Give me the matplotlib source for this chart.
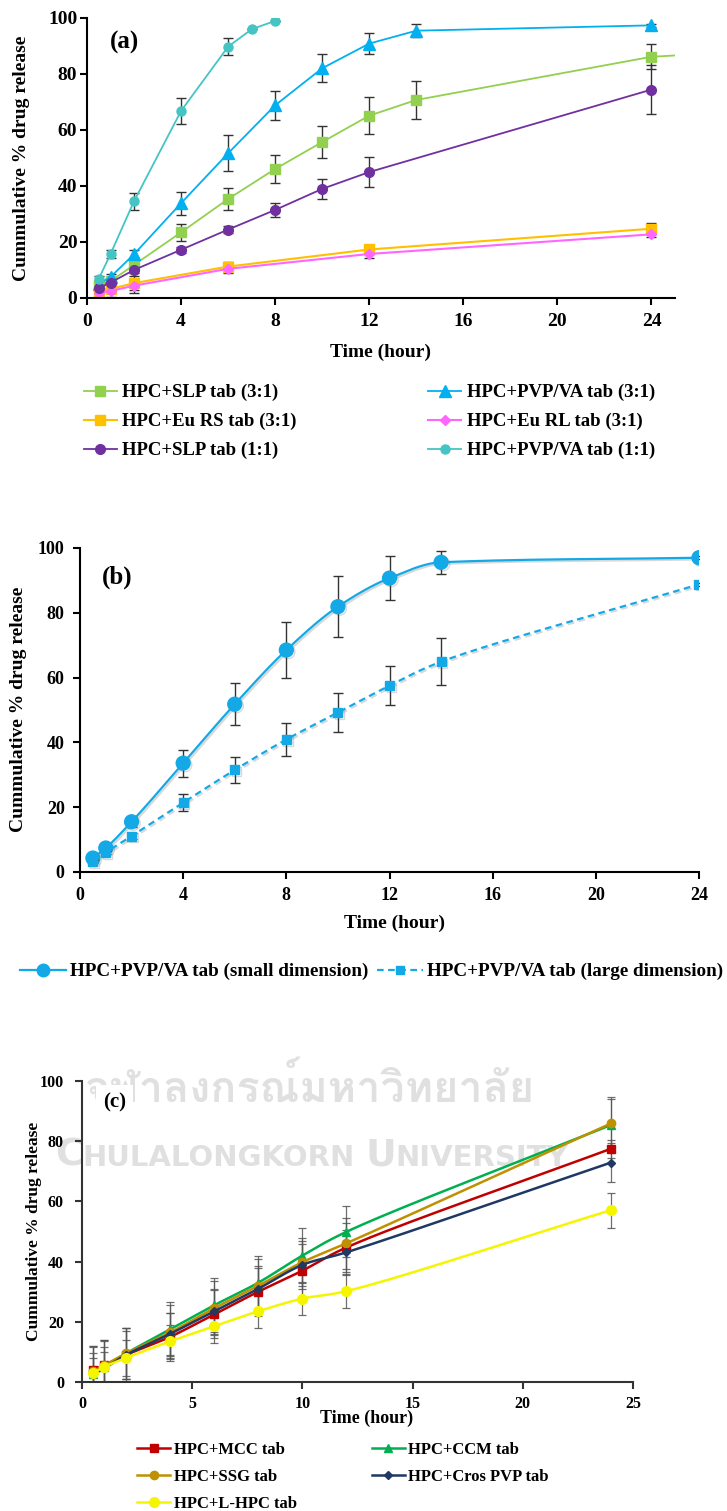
import numpy as np
import matplotlib
matplotlib.use('Agg')
import matplotlib.pyplot as plt
import matplotlib.patheffects as pe
from matplotlib import font_manager, ft2font

plt.rcParams['font.family'] = ['Liberation Serif', 'DejaVu Serif']
plt.rcParams['font.weight'] = 'bold'
plt.rcParams['axes.labelweight'] = 'bold'

W, H = 727, 1511

# ---- data (a) ----
t_a = [0.5, 1, 2, 4, 6, 8, 10, 12, 14, 24]
slp31 = [4.5, 6, 11.8, 23.4, 35.3, 46, 55.6, 65, 70.6, 86]
slp31_err = [1, 1, 1, 3.1, 3.9, 5, 5.8, 6.7, 6.7, 4.5]
slp31_tail = [25.3, 86.6]
pvp31 = [5, 7.5, 15.6, 33.8, 51.6, 68.7, 81.9, 90.7, 95.3, 97.2]
pvp31_err = [1, 1, 1.5, 4.1, 6.4, 5.2, 5, 3.6, 2.4, 0.5]
t_slp11 = [0.5, 1, 2, 4, 6, 8, 10, 12, 24]
slp11 = [3.5, 5.5, 10, 17.2, 24.4, 31.4, 38.9, 44.9, 74.3]
slp11_err = [1, 1, 1, 1, 1.4, 2.6, 3.7, 5.2, 8.6]
t_eu = [0.5, 1, 2, 6, 12, 24]
eurs = [2.2, 3.2, 5.3, 11.2, 17.3, 24.7]
eurs_err = [1, 1.5, 2.5, 1.5, 1, 2]
eurl = [1.8, 2.5, 4.4, 10.4, 15.7, 22.7]
eurl_err = [1, 2, 2.5, 1.5, 1.5, 1]
t_pvp11 = [0.5, 1, 2, 4, 6, 7, 8]
pvp11 = [6.8, 15.7, 34.5, 66.7, 89.6, 95.8, 98.8]
pvp11_err = [1, 1.5, 3, 4.6, 3, 0, 0]

# ---- data (b) ----
t_b = [0.5, 1, 2, 4, 6, 8, 10, 12, 14, 24]
small_dim = [4.3, 7.4, 15.5, 33.6, 51.8, 68.5, 81.9, 90.7, 95.6, 97]
small_err = [1, 1, 1.5, 4.2, 6.5, 8.6, 9.4, 6.7, 3.5, 0.5]
large_dim = [3.2, 6, 11.1, 21.4, 31.5, 40.9, 49.2, 57.5, 64.9, 88.8]
large_err = [0.5, 0.5, 1, 2.7, 3.9, 5, 5.9, 6.1, 7.2, 0.5]

# ---- data (c) ----
t_c = [0.5, 1, 2, 4, 6, 8, 10, 12, 24]
mcc = [4, 5.5, 9, 15, 22.5, 30, 37, 44.7, 77.5]
mcc_err = [8, 8, 9, 8, 8, 8, 9, 8, 3]
ccm = [2.5, 5, 9.5, 17.5, 25.5, 33, 42, 49.9, 85.4]
ccm_err = [9, 9, 8.5, 9, 9, 9, 9, 8.5, 8.7]
ssg = [3.5, 5.5, 9.5, 16.5, 24.5, 32, 39.8, 46.1, 85.9]
ssg_err = [8.5, 8.5, 8.5, 9, 9, 9, 8, 8.5, 8.7]
cros = [2.5, 4.5, 9, 16, 23.5, 31, 38.9, 43.1, 72.9]
cros_err = [7, 7, 8, 7, 7.5, 7.5, 8, 7.5, 6.5]
lhpc = [3, 5, 8, 13.5, 18.5, 23.5, 27.7, 30.2, 57.1]
lhpc_err = [5, 5, 6, 5.5, 5.5, 5.5, 5.5, 5.7, 5.8]

wm_thai = 'จุฬาลงกรณ์มหาวิทยาลัย'
wm_eng = [('C', 1.3), ('HULALONGKORN', 1.0), (' ', 1.0), ('U', 1.3), ('NIVERSITY', 1.0)]


def smooth(x, y, sx, sy, n=30):
    # centripetal Catmull-Rom through the points (smoothed line look)
    P = np.column_stack([np.asarray(x, float) * sx, np.asarray(y, float) * sy])
    P = np.vstack([2 * P[0] - P[1], P, 2 * P[-1] - P[-2]])
    out = []
    for i in range(1, len(P) - 2):
        p0, p1, p2, p3 = P[i - 1], P[i], P[i + 1], P[i + 2]
        t0 = 0.0
        t1 = t0 + np.linalg.norm(p1 - p0) ** 0.5
        t2 = t1 + np.linalg.norm(p2 - p1) ** 0.5
        t3 = t2 + np.linalg.norm(p3 - p2) ** 0.5
        t = np.linspace(t1, t2, n)[:, None]
        a1 = (t1 - t) / (t1 - t0) * p0 + (t - t0) / (t1 - t0) * p1
        a2 = (t2 - t) / (t2 - t1) * p1 + (t - t1) / (t2 - t1) * p2
        a3 = (t3 - t) / (t3 - t2) * p2 + (t - t2) / (t3 - t2) * p3
        b1 = (t2 - t) / (t2 - t0) * a1 + (t - t0) / (t2 - t0) * a2
        b2 = (t3 - t) / (t3 - t1) * a2 + (t - t1) / (t3 - t1) * a3
        out.append((t2 - t) / (t2 - t1) * b1 + (t - t1) / (t2 - t1) * b2)
    out = np.vstack(out)
    return out[:, 0] / sx, out[:, 1] / sy


def smooth_mono(x, y, n=30):
    # monotone cubic (no overshoot where the curve levels off)
    x = np.asarray(x, float)
    y = np.asarray(y, float)
    h = np.diff(x)
    d = np.diff(y) / h
    m = np.zeros_like(y)
    m[0], m[-1] = d[0], d[-1]
    for i in range(1, len(y) - 1):
        if d[i - 1] * d[i] > 0:
            w1 = 2 * h[i] + h[i - 1]
            w2 = h[i] + 2 * h[i - 1]
            m[i] = (w1 + w2) / (w1 / d[i - 1] + w2 / d[i])
    t = np.linspace(0, 1, n)
    h00 = 2 * t**3 - 3 * t**2 + 1
    h10 = t**3 - 2 * t**2 + t
    h01 = -2 * t**3 + 3 * t**2
    h11 = t**3 - t**2
    xs, ys = [], []
    for i in range(len(h)):
        xs.extend(x[i] + t * h[i])
        ys.extend(h00 * y[i] + h10 * h[i] * m[i] + h01 * y[i + 1] + h11 * h[i] * m[i + 1])
    return np.array(xs), np.array(ys)


def pax(l, t, r, b):
    return fig.add_axes([l / W, 1 - b / H, (r - l) / W, (b - t) / H])


def ftxt(x, y, s, **kw):
    return fig.text(x / W, 1 - y / H, s, **kw)


def style(ax, size, lw=1.5, col='black'):
    ax.patch.set_alpha(0)
    for s in ['top', 'right']:
        ax.spines[s].set_visible(False)
    for s in ['left', 'bottom']:
        ax.spines[s].set_linewidth(lw)
        ax.spines[s].set_color(col)
    ax.tick_params(direction='out', length=5, width=lw, colors=col,
                   labelsize=size, labelcolor='black')
    ax.set_ylim(0, 100)
    ax.set_yticks(range(0, 101, 20))


def find_family(ch):
    for f in font_manager.fontManager.ttflist:
        try:
            if ord(ch) in ft2font.FT2Font(f.fname).get_charmap():
                return f.name
        except Exception:
            pass
    return None


fig = plt.figure(figsize=(W / 100, H / 100), dpi=100)
rend = fig.canvas.get_renderer()

# ---- watermark ----
wm_col = '#e0e0e0'
thai_fam = find_family(wm_thai[0])
if thai_fam:
    t = ftxt(310, 1086, wm_thai, fontsize=30, color=wm_col, family=[thai_fam],
             ha='center', va='center', zorder=-5)
    bb = t.get_window_extent(rend)
    t.set_fontsize(30 * 450 / bb.width)
# small-caps style English line, scaled to the reference width
base = 22
parts = []
x = 0
for s, k in wm_eng:
    tt = ftxt(55, 1166, s, fontsize=base * k, color=wm_col, weight='bold',
              family=['Liberation Sans Narrow', 'DejaVu Sans'], ha='left',
              va='baseline', zorder=-5)
    parts.append((tt, k))
    x += tt.get_window_extent(rend).width
scale = 513 / x
x = 55
for tt, k in parts:
    tt.set_fontsize(base * k * scale)
    tt.set_position((x / W, 1 - 1166 / H))
    x += tt.get_window_extent(rend).width

# ---- (a) ----
ax = pax(87, 17.5, 675, 298)
style(ax, 14)
ax.set_xlim(0, 25)
ax.set_xticks(range(0, 25, 4))
ax.tick_params(axis='y', pad=2)
ax.tick_params(axis='x', pad=6)
eb = dict(ecolor='#333333', elinewidth=1, capsize=3.5, capthick=1)
h1 = ax.errorbar(t_a, slp31, yerr=slp31_err, color='#92D050', marker='s', ms=7, lw=1.3, **eb)
ax.plot([t_a[-1], slp31_tail[0]], [slp31[-1], slp31_tail[1]], color='#92D050', lw=1.3)
h2 = ax.errorbar(t_a, pvp31, yerr=pvp31_err, color='#00B0F0', marker='^', ms=8, lw=1.3, **eb)
h3 = ax.errorbar(t_eu, eurs, yerr=eurs_err, color='#FFC000', marker='s', ms=7, lw=1.5, **eb)
h4 = ax.errorbar(t_eu, eurl, yerr=eurl_err, color='#FF66FF', marker='D', ms=5.5, lw=1.5, **eb)
h5 = ax.errorbar(t_slp11, slp11, yerr=slp11_err, color='#7030A0', marker='o', ms=7, lw=1.3, **eb)
h6 = ax.errorbar(t_pvp11, pvp11, yerr=pvp11_err, color='#45C4C4', marker='o', ms=6.5, lw=1.3, **eb)
ax.text(1.6, 91, '(a)', fontsize=18, ha='center', va='center')
ftxt(22, 158, 'Cummulative % drug release', fontsize=14, rotation=90, ha='center', va='center')
ftxt(381, 352, 'Time (hour)', fontsize=14, ha='center', va='center')
labels_a = ['HPC+SLP tab (3:1)', 'HPC+Eu RS tab (3:1)', 'HPC+SLP tab (1:1)',
            'HPC+PVP/VA tab (3:1)', 'HPC+Eu RL tab (3:1)', 'HPC+PVP/VA tab (1:1)']
hs = [h[0] for h in (h1, h3, h5, h2, h4, h6)]
fig.legend(hs, labels_a, ncol=2, loc='upper left', bbox_to_anchor=(84 / W, 1 - 384 / H),
           frameon=False, fontsize=13.5, handlelength=1.75, handletextpad=0.3,
           columnspacing=7.0, labelspacing=0.62, borderpad=0, borderaxespad=0)

# ---- (b) ----
ax = pax(80, 548, 699, 872)
style(ax, 13)
ax.set_xlim(0, 24)
ax.set_xticks(range(0, 25, 4))
ax.tick_params(axis='y', pad=6)
ax.tick_params(axis='x', pad=6)
shadow = [pe.SimpleLineShadow(offset=(1.2, -1.2), shadow_color='#666666', alpha=0.25), pe.Normal()]
xs, ys = smooth_mono(t_b, small_dim)
ax.plot(xs, ys, color='#13A9E6', lw=1.6, path_effects=shadow)
ax.errorbar(t_b, small_dim, yerr=small_err, fmt='none', **eb)
ax.plot(t_b, small_dim, 'o', color='#13A9E6', ms=10, path_effects=shadow)
xs, ys = smooth(t_b, large_dim, 25.8, 3.24)
ax.plot(xs, ys, color='#13A9E6', lw=1.6, ls=(0, (3, 2)), path_effects=shadow)
ax.errorbar(t_b, large_dim, yerr=large_err, fmt='none', **eb)
ax.plot(t_b, large_dim, 's', color='#13A9E6', ms=6.5, path_effects=shadow)
lb1, = ax.plot([], [], '-o', color='#13A9E6', ms=9, lw=1.6)
lb2, = ax.plot([], [], '--s', color='#13A9E6', ms=6, lw=1.6, dashes=(3, 2))
ax.text(1.45, 91, '(b)', fontsize=18, ha='center', va='center')
ftxt(19, 709, 'Cummulative % drug release', fontsize=14, rotation=90, ha='center', va='center')
ftxt(394, 923, 'Time (hour)', fontsize=14, ha='center', va='center')
fig.legend([lb1, lb2], ['HPC+PVP/VA tab (small dimension)', 'HPC+PVP/VA tab (large dimension)'],
           ncol=2, loc='upper left', bbox_to_anchor=(20 / W, 1 - 963 / H), frameon=False,
           fontsize=13.8, handlelength=2.4, handletextpad=0.2, columnspacing=0.45,
           borderpad=0, borderaxespad=0)

# ---- (c) ----
ax = pax(82, 1081, 633, 1382)
style(ax, 11.5, lw=1.5, col='#333333')
ax.set_xlim(0, 25)
ax.set_xticks(range(0, 26, 5))
ax.tick_params(axis='y', pad=8)
ax.tick_params(axis='x', pad=5)
ebc = dict(fmt='none', ecolor='#555555', elinewidth=0.9, capsize=3, capthick=0.9, alpha=0.85)
series_c = [(mcc, mcc_err, '#C00000', 's', 5.5), (ccm, ccm_err, '#00B050', '^', 6),
            (ssg, ssg_err, '#BF9000', 'o', 6), (cros, cros_err, '#203864', 'D', 4.5),
            (lhpc, lhpc_err, '#F5F500', 'o', 7)]
hc = []
for vals, err, col, mk, ms in series_c:
    ax.errorbar(t_c, vals, yerr=err, **ebc)
for vals, err, col, mk, ms in series_c:
    xs, ys = smooth(t_c, vals, 22.0, 3.01)
    ax.plot(xs, ys, color=col, lw=1.8)
    ax.plot(t_c, vals, mk, color=col, ms=ms)
    h, = ax.plot([], [], '-', marker=mk, color=col, lw=1.8, ms=ms)
    hc.append(h)
ax.text(1.46, 93, '(c)', fontsize=15, ha='center', va='center',
        bbox=dict(facecolor='white', edgecolor='none', pad=5))
ftxt(34, 1231, 'Cummulative % drug release', fontsize=12.5, rotation=90, ha='center', va='center')
ftxt(367, 1418, 'Time (hour)', fontsize=13, ha='center', va='center')
labels_c = ['HPC+MCC tab', 'HPC+SSG tab', 'HPC+L-HPC tab', 'HPC+CCM tab', 'HPC+Cros PVP tab']
fig.legend([hc[0], hc[2], hc[4], hc[1], hc[3]], labels_c, ncol=2, loc='upper left',
           bbox_to_anchor=(137 / W, 1 - 1442 / H), frameon=False, fontsize=12,
           handlelength=2.0, handletextpad=0.2, columnspacing=4.5, labelspacing=0.66,
           borderpad=0, borderaxespad=0)

fig.savefig('out.png', dpi=100)
